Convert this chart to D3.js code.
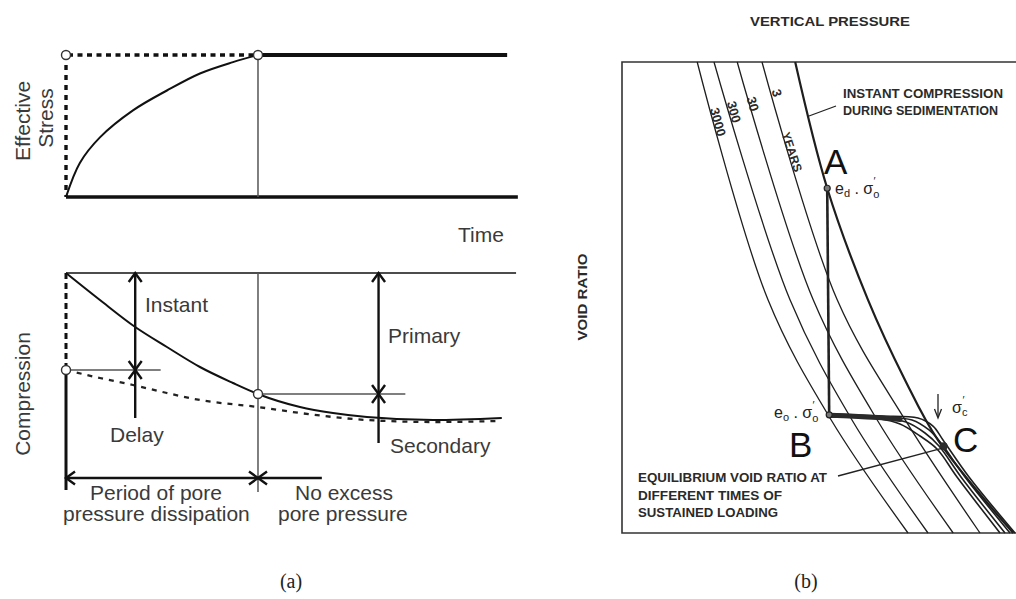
<!DOCTYPE html>
<html>
<head>
<meta charset="utf-8">
<script src="https://cdn.jsdelivr.net/npm/d3@7"></script>
<style>
  body { margin: 0; background: #fff; }
  svg { display: block; }
</style>
</head>
<body>
<svg id="chart" width="1016" height="599"></svg>
<script>
// ---------- panel (a) data: time in % of plotted span, stress 0..1, compression in units
const tDissipation = 43;
const stressCurve = [[0, 0], [3.1, 0.24], [7.6, 0.42], [15, 0.61], [22.6, 0.75], [30, 0.87], [37.4, 0.95], [43, 1]];
const compressionCurve = [[0, 0], [7.6, 0.27], [15.5, 0.54], [22.6, 0.74], [30, 0.94], [37.4, 1.1], [43, 1.21],
  [52.4, 1.34], [59.8, 1.4], [67.4, 1.44], [82.2, 1.47], [97.6, 1.45]];
const delayedCurve = [[0, 0.97], [7.6, 1.05], [15, 1.12], [22.6, 1.2], [30, 1.27], [43, 1.34], [52.4, 1.4],
  [67.4, 1.47], [82.2, 1.49], [97.2, 1.48]];
const instantComp = 0.97;
const primaryEnd = 1.21;
const compArrows = [
  { name: "Instant", t: 15.5, from: 0, to: 0.97, heads: "both" },
  { name: "Delay", t: 15.5, from: 0.97, to: 1.45, heads: "start" },
  { name: "Primary", t: 70, from: 0, to: 1.21, heads: "both" },
  { name: "Secondary", t: 70, from: 1.21, to: 1.7, heads: "start" }
];

// ---------- panel (b) data: log pressure (0..100) vs void ratio (0..100)
const timeLabels = ["3000", "300", "30", "3"];
const line3000 = [[18.8, 100], [36.5, 49.5], [52.3, 24], [71.5, 0]];
const line300 = [[23, 100], [42, 49.5], [57.5, 24], [76.5, 0]];
const line30 = [[28.8, 100], [47.8, 49.5], [63.8, 24], [82.8, 0]];
const line3 = [[35, 100], [53.8, 49.5], [70.8, 24], [89.5, 0]];
const instantLine = [[43.3, 100], [51.3, 73.2], [61.5, 49.5], [70.75, 32.5], [79, 19.7], [97.8, 0]];
const pointA = [51.3, 73.2];
const pointB = [51.8, 25.1];
const pointC = [80.4, 18.4];
const loadPath1 = [[51.75, 25.3], [64.5, 24.85], [74, 24.4], [77.75, 22.7], [80.25, 19.75], [86.75, 11.9], [98.25, 0]];
const loadPath2 = [[51.75, 25.05], [64.5, 24.63], [72.5, 24.0], [76.75, 21.87], [79.75, 19.1], [85.75, 11.9], [97, 0]];
const loadPath3 = [[51.75, 24.84], [64.5, 24.42], [71, 23.57], [75.75, 21.23], [79.25, 18.47], [84.75, 11.9], [95.75, 0]];
const loadPath4 = [[51.75, 24.63], [64.5, 24.2], [69.5, 23.14], [74.5, 20.59], [78.75, 17.83], [83.75, 11.9], [94.5, 0]];
const loadTrunk = [[51.8, 25.0], [58, 24.8], [64, 24.5], [69.5, 24.1]];

const svg = d3.select("#chart");
const ink = "#111";
const grey = "#555";
const textCol = "#3a3a3a";
const sans = "'Liberation Sans', Arial, sans-serif";

// open chevron arrowhead, tip at (x, y), pointing along (dx, dy)
function chevron(g, x, y, dx, dy, width) {
  const len = 9, half = 6.5;
  const px = -dy, py = dx;
  g.append("polyline")
    .attr("points", [
      [x - dx * len + px * half, y - dy * len + py * half],
      [x, y],
      [x - dx * len - px * half, y - dy * len - py * half]
    ].map(p => p.join(",")).join(" "))
    .attr("fill", "none").attr("stroke", ink).attr("stroke-width", width || 2.4);
}

function seg(g, x1, y1, x2, y2, width, color, dash) {
  const l = g.append("line")
    .attr("x1", x1).attr("y1", y1).attr("x2", x2).attr("y2", y2)
    .attr("stroke", color || ink).attr("stroke-width", width);
  if (dash) l.attr("stroke-dasharray", dash);
  return l;
}

// ================= panel (a) =================
const xA = d3.scaleLinear().domain([0, 100]).range([66, 512.5]);
const yStress = d3.scaleLinear().domain([0, 1]).range([197, 55]);
const yComp = d3.scaleLinear().domain([0, 2]).range([273, 473]);
const ga = svg.append("g");

// top: effective stress
seg(ga, xA(0), yStress(0), xA(101.2), yStress(0), 3.5);
seg(ga, xA(tDissipation), yStress(1), xA(98.8), yStress(1), 4);
seg(ga, xA(0) + 2, yStress(1), xA(tDissipation), yStress(1), 3.6, ink, "5,4.5");
seg(ga, xA(0), yStress(1), xA(0), yStress(0), 3.4, ink, "5,5");
seg(ga, xA(tDissipation), yStress(1), xA(tDissipation), yStress(0), 1.5, grey);
ga.append("path")
  .attr("d", d3.line().x(d => xA(d[0])).y(d => yStress(d[1])).curve(d3.curveCatmullRom.alpha(0.5))(stressCurve))
  .attr("fill", "none").attr("stroke", ink).attr("stroke-width", 2);
[[0, 1], [tDissipation, 1]].forEach(p => {
  ga.append("circle").attr("cx", xA(p[0])).attr("cy", yStress(p[1])).attr("r", 4.5)
    .attr("fill", "#fff").attr("stroke", "#333").attr("stroke-width", 1.4);
});

// bottom: compression
seg(ga, xA(0), yComp(0), xA(100.8), yComp(0), 1.6);
seg(ga, xA(0), yComp(0), xA(0), yComp(instantComp), 3, ink, "6,4");
seg(ga, xA(0), yComp(instantComp), xA(0), yComp(2.17), 3);
seg(ga, xA(tDissipation), yComp(0), xA(tDissipation), yComp(2.19), 1.5, grey);
seg(ga, xA(0), yComp(instantComp), xA(21.2), yComp(instantComp), 1.3, grey);
seg(ga, xA(tDissipation), yComp(primaryEnd), xA(76), yComp(primaryEnd), 1.3, grey);

ga.append("path")
  .attr("d", d3.line().x(d => xA(d[0])).y(d => yComp(d[1])).curve(d3.curveMonotoneX)(delayedCurve))
  .attr("fill", "none").attr("stroke", "#222").attr("stroke-width", 2.3).attr("stroke-dasharray", "5,6");
ga.append("path")
  .attr("d", d3.line().x(d => xA(d[0])).y(d => yComp(d[1])).curve(d3.curveMonotoneX)(compressionCurve))
  .attr("fill", "none").attr("stroke", ink).attr("stroke-width", 2);

compArrows.forEach(a => {
  const x = xA(a.t);
  seg(ga, x, yComp(a.from), x, yComp(a.to), 2.4);
  chevron(ga, x, yComp(a.from), 0, -1);
  if (a.heads === "both") chevron(ga, x, yComp(a.to), 0, 1);
});

// period arrows
const yPeriod = yComp(2.05);
seg(ga, xA(0), yPeriod, xA(tDissipation), yPeriod, 2.4);
seg(ga, xA(tDissipation), yPeriod, xA(57.3), yPeriod, 2.4);
chevron(ga, xA(0), yPeriod, -1, 0);
chevron(ga, xA(tDissipation), yPeriod, 1, 0);
chevron(ga, xA(tDissipation), yPeriod, -1, 0);

[[0, instantComp], [tDissipation, primaryEnd]].forEach(p => {
  ga.append("circle").attr("cx", xA(p[0])).attr("cy", yComp(p[1])).attr("r", 4.5)
    .attr("fill", "#fff").attr("stroke", "#333").attr("stroke-width", 1.4);
});

// texts (a)
const aText = (x, y, s, rot) => {
  const t = ga.append("text").attr("font-family", sans).attr("font-size", 21).attr("fill", textCol).text(s);
  if (rot) t.attr("transform", `translate(${x},${y}) rotate(-90)`).attr("text-anchor", "middle");
  else t.attr("x", x).attr("y", y);
  return t;
};
aText(30, 121, "Effective", true);
aText(53, 118, "Stress", true);
aText(30, 394, "Compression", true);
aText(458, 242, "Time");
aText(145, 312, "Instant");
aText(388, 343, "Primary");
aText(110, 442, "Delay");
aText(390, 453, "Secondary");
aText(90, 500, "Period of pore");
aText(63, 521, "pressure dissipation");
aText(295, 500, "No excess");
aText(278, 521, "pore pressure");

// ================= panel (b) =================
const xB = d3.scaleLinear().domain([0, 100]).range([622, 1022]);
const yB = d3.scaleLinear().domain([0, 100]).range([533, 62]);
const gb = svg.append("g");
const curveB = d3.line().x(d => xB(d[0])).y(d => yB(d[1])).curve(d3.curveCatmullRom.alpha(0.5));
const bInk = "#1e1e1e";

gb.append("path")
  .attr("d", `M${xB(104)},${yB(100)}H${xB(0)}V${yB(0)}H${xB(104)}`)
  .attr("fill", "none").attr("stroke", "#333").attr("stroke-width", 1.6);

[line3000, line300, line30, line3].forEach(l => {
  gb.append("path").attr("d", curveB(l)).attr("fill", "none").attr("stroke", bInk).attr("stroke-width", 1.3);
});
gb.append("path").attr("d", curveB(instantLine)).attr("fill", "none").attr("stroke", bInk).attr("stroke-width", 2.2);

// A -> B unloaded ageing
seg(gb, xB(pointA[0]), yB(pointA[1]), xB(pointB[0]), yB(pointB[1]), 2.6, "#222");

[loadPath1, loadPath2, loadPath3, loadPath4].forEach(l => {
  gb.append("path").attr("d", curveB(l)).attr("fill", "none").attr("stroke", bInk).attr("stroke-width", 1.6);
});
gb.append("path").attr("d", curveB(loadTrunk)).attr("fill", "none").attr("stroke", "#2a2a2a")
  .attr("stroke-width", 5).attr("stroke-linecap", "round");

[pointA, pointB].forEach(p => {
  gb.append("circle").attr("cx", xB(p[0])).attr("cy", yB(p[1])).attr("r", 3)
    .attr("fill", "#777").attr("stroke", "#222").attr("stroke-width", 1.2);
});
gb.append("circle").attr("cx", xB(pointC[0])).attr("cy", yB(pointC[1])).attr("r", 4).attr("fill", "#2a2a2a");

// leader lines
seg(gb, 809, 116, 836, 106, 1.3, "#222");
seg(gb, 838, 476, xB(pointC[0]) - 2, yB(pointC[1]) + 2, 1.4, "#222");
// sigma'_c marker
seg(gb, 938, 394, 938, 417, 1.3, "#222");
gb.append("polyline").attr("points", "934.5,409 938,418 941.5,409")
  .attr("fill", "none").attr("stroke", "#222").attr("stroke-width", 1.3);

const bText = (x, y, s, len, size) => gb.append("text")
  .attr("x", x).attr("y", y).attr("font-family", sans).attr("font-size", size || 12)
  .attr("font-weight", "bold").attr("fill", "#2a2a2a")
  .attr("textLength", len).attr("lengthAdjust", "spacingAndGlyphs").text(s);

bText(750, 26, "VERTICAL PRESSURE", 160, 13);
bText(843, 98, "INSTANT  COMPRESSION", 160, 13);
bText(843, 115, "DURING  SEDIMENTATION", 155, 13);
bText(638, 482, "EQUILIBRIUM  VOID RATIO  AT", 189, 13);
bText(638, 500, "DIFFERENT  TIMES OF", 144, 13);
bText(638, 517, "SUSTAINED LOADING", 140, 13);
gb.append("text").attr("transform", "translate(587,297) rotate(-90)")
  .attr("text-anchor", "middle").attr("font-family", sans).attr("font-size", 12).attr("font-weight", "bold")
  .attr("fill", "#2a2a2a").attr("textLength", 87).attr("lengthAdjust", "spacingAndGlyphs").text("VOID RATIO");

// curve labels along the lines
const labelPos = [[718, 122], [734, 112], [753, 104], [777, 93]];
timeLabels.forEach((s, i) => {
  gb.append("text").attr("transform", `translate(${labelPos[i][0]},${labelPos[i][1]}) rotate(74)`)
    .attr("text-anchor", "middle").attr("dy", "0.35em").attr("font-family", sans)
    .attr("font-size", 13).attr("font-weight", "bold").attr("fill", "#2a2a2a").text(s);
});
gb.append("text").attr("transform", "translate(792,152) rotate(72)")
  .attr("text-anchor", "middle").attr("dy", "0.35em").attr("font-family", sans)
  .attr("font-size", 12).attr("font-weight", "bold").attr("fill", "#2a2a2a").text("YEARS");

// point letters
const big = (x, y, s) => gb.append("text").attr("x", x).attr("y", y).attr("font-family", sans)
  .attr("font-size", 35).attr("fill", "#111").text(s);
big(824, 174, "A");
big(789, 457, "B");
big(953, 452, "C");

// e, sigma' annotations
function stateLabel(x, y, sub1, sub2) {
  const t = gb.append("text").attr("x", x).attr("y", y).attr("font-family", sans)
    .attr("font-size", 16).attr("fill", "#222");
  t.append("tspan").text("e");
  t.append("tspan").attr("font-size", 11).attr("dy", 3).text(sub1);
  t.append("tspan").attr("dy", -3).text(" . σ");
  t.append("tspan").attr("font-size", 11).attr("dy", 4).text(sub2);
  t.append("tspan").attr("font-size", 11).attr("dx", -6).attr("dy", -13).text("′");
}
stateLabel(835, 194, "d", "o");
stateLabel(774, 418, "o", "o");
const sc = gb.append("text").attr("x", 952).attr("y", 413).attr("font-family", sans)
  .attr("font-size", 16).attr("fill", "#222");
sc.append("tspan").text("σ");
sc.append("tspan").attr("font-size", 11).attr("dy", 3).text("c");
sc.append("tspan").attr("font-size", 11).attr("dx", -5).attr("dy", -12).text("′");

// sub-figure captions
[["(a)", 291], ["(b)", 806]].forEach(([s, x]) => {
  svg.append("text").attr("x", x).attr("y", 588).attr("text-anchor", "middle")
    .attr("font-family", "'Liberation Serif', 'Times New Roman', serif").attr("font-size", 20)
    .attr("fill", "#222").text(s);
});
</script>
</body>
</html>
